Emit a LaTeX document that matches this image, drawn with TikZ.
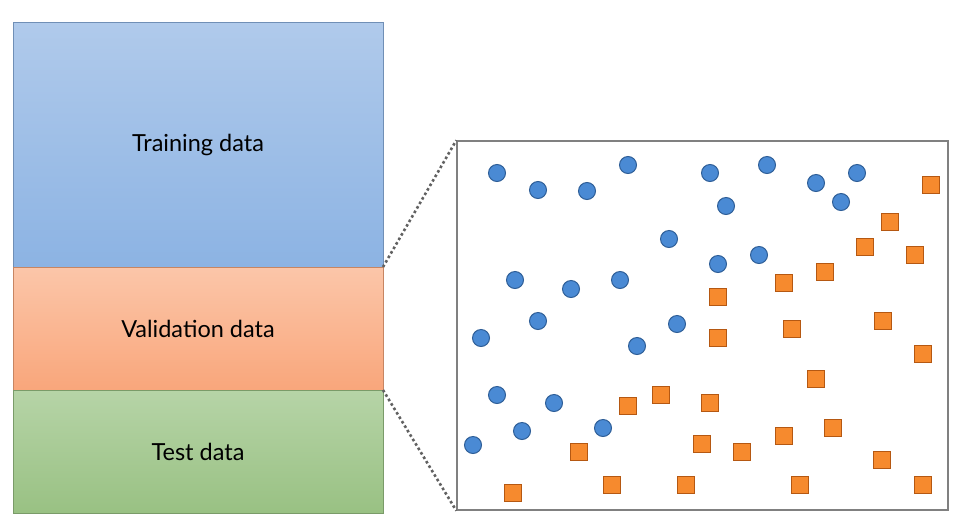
\documentclass[tikz,border=0pt]{standalone}
\usepackage{fontspec}
\setmainfont{Lato}
\usetikzlibrary{positioning}
\definecolor{traintop}{HTML}{B0CAEB}
\definecolor{trainbot}{HTML}{8CB3E3}
\definecolor{valtop}{HTML}{FBC6A9}
\definecolor{valbot}{HTML}{F9A67B}
\definecolor{testtop}{HTML}{B6D4A7}
\definecolor{testbot}{HTML}{99C183}
\definecolor{dotc}{HTML}{4A8AD4}
\definecolor{dotedge}{HTML}{2E5E97}
\definecolor{sqc}{HTML}{F68A2E}
\definecolor{sqedge}{HTML}{B55812}
\newcommand{\datapart}[4]{%
  \shade[top color=#2, bottom color=#3] (#1.north west) rectangle (#1.south east);
  \draw[#3!80!black, line width=0.6pt] (#1.north west) rectangle (#1.south east);
  \node at (#1) {#4};
}

\begin{document}
\begin{tikzpicture}[x=1pt, y=-1pt, font=\fontsize{23.5}{28}\selectfont,
      part/.style={minimum width=370pt, inner sep=0pt, outer sep=0pt},
      pt/.style={circle, fill=dotc, draw=dotedge, line width=1pt,
                 minimum size=17pt, inner sep=0pt},
      sq/.style={rectangle, fill=sqc, draw=sqedge, line width=1pt,
                 minimum size=16.5pt, inner sep=0pt},
      zoomline/.style={dash pattern=on 2.6pt off 2.6pt, line width=2.6pt,
                       black!62}]
    \useasboundingbox (0,0) rectangle (963,528);
    % the three data splits
    \node[part, minimum height=245pt] (train) at (198,144.5) {};
    \node[part, minimum height=123pt, below=0pt of train] (val) {};
    \node[part, minimum height=123pt, below=0pt of val] (test) {};
    \datapart{train}{traintop}{trainbot}{Training data}
    \datapart{val}{valtop}{valbot}{Validation data}
    \datapart{test}{testtop}{testbot}{Test data}
    % zoomed view of the samples
    \node[draw=black!50, line width=1.4pt, minimum width=491pt,
          minimum height=369pt, inner sep=0pt] (scatter) at (702.5,325.5) {};
    \draw[zoomline] (train.south east) -- (scatter.north west);
    \draw[zoomline] (val.south east) -- (scatter.south west);
    \foreach \x/\y [count=\i] in {497/173, 538/190, 587/191, 628/165, 710/173,
        726/206, 767/165, 816/183, 857/173, 841/202, 669/239, 718/264,
        759/255, 515/280, 571/289, 620/280, 538/321, 481/338, 677/324,
        637/346, 497/395, 554/403, 522/431, 603/428, 473/445}
      \node[pt] (c\i) at (\x,\y) {};
    \foreach \x/\y [count=\i] in {931/185, 890/222, 865/247, 915/255, 825/272,
        784/283, 718/297, 718/338, 792/329, 883/321, 923/354, 816/379,
        628/406, 661/395, 710/403, 579/452, 702/444, 742/452, 784/436,
        833/428, 882/460, 513/493, 612/485, 686/485, 800/485, 923/485}
      \node[sq] (s\i) at (\x,\y) {};
\end{tikzpicture}
\end{document}
